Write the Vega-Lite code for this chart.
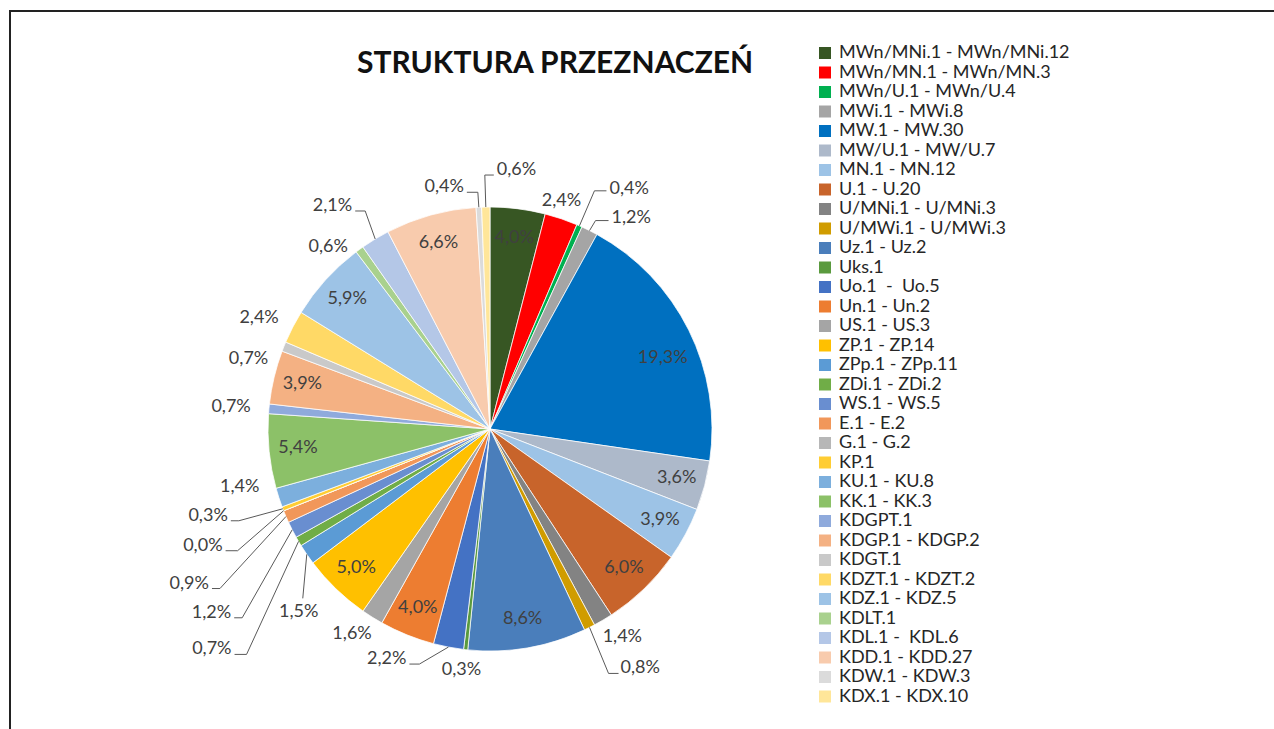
{
  "$schema": "https://vega.github.io/schema/vega-lite/v6.json",
  "width": 1264,
  "height": 718,
  "autosize": {"type": "none"},
  "padding": {"left": 10, "top": 11, "right": 0, "bottom": 0},
  "background": "#ffffff",
  "title": {"text": "STRUKTURA PRZEZNACZEŃ", "font": "Lato", "fontSize": 30, "fontWeight": "bold", "color": "#111111", "anchor": "start", "frame": "group", "orient": "top", "baseline": "middle", "offset": 0, "dx": 347, "dy": 83},
  "data": {"values": [
    {"k": "MWn/MNi.1 - MWn/MNi.12", "v": 4.0},
    {"k": "MWn/MN.1 - MWn/MN.3", "v": 2.4},
    {"k": "MWn/U.1 - MWn/U.4", "v": 0.4},
    {"k": "MWi.1 - MWi.8", "v": 1.2},
    {"k": "MW.1 - MW.30", "v": 19.3},
    {"k": "MW/U.1 - MW/U.7", "v": 3.6},
    {"k": "MN.1 - MN.12", "v": 3.9},
    {"k": "U.1 - U.20", "v": 6.0},
    {"k": "U/MNi.1 - U/MNi.3", "v": 1.4},
    {"k": "U/MWi.1 - U/MWi.3", "v": 0.8},
    {"k": "Uz.1 - Uz.2", "v": 8.6},
    {"k": "Uks.1", "v": 0.3},
    {"k": "Uo.1\u00a0 -\u00a0 Uo.5", "v": 2.2},
    {"k": "Un.1 - Un.2", "v": 4.0},
    {"k": "US.1 - US.3", "v": 1.6},
    {"k": "ZP.1 - ZP.14", "v": 5.0},
    {"k": "ZPp.1 - ZPp.11", "v": 1.5},
    {"k": "ZDi.1 - ZDi.2", "v": 0.7},
    {"k": "WS.1 - WS.5", "v": 1.2},
    {"k": "E.1 - E.2", "v": 0.9},
    {"k": "G.1 - G.2", "v": 0.0},
    {"k": "KP.1", "v": 0.3},
    {"k": "KU.1 - KU.8", "v": 1.4},
    {"k": "KK.1 - KK.3", "v": 5.4},
    {"k": "KDGPT.1", "v": 0.7},
    {"k": "KDGP.1 - KDGP.2", "v": 3.9},
    {"k": "KDGT.1", "v": 0.7},
    {"k": "KDZT.1 - KDZT.2", "v": 2.4},
    {"k": "KDZ.1 - KDZ.5", "v": 5.9},
    {"k": "KDLT.1", "v": 0.6},
    {"k": "KDL.1 -\u00a0 KDL.6", "v": 2.1},
    {"k": "KDD.1 - KDD.27", "v": 6.6},
    {"k": "KDW.1 - KDW.3", "v": 0.4},
    {"k": "KDX.1 - KDX.10", "v": 0.6}
  ]},
  "transform": [
    {"window": [{"op": "row_number", "as": "idx"}]},
    {"stack": "v", "groupby": [], "sort": [{"field": "idx", "order": "ascending"}], "as": ["s0", "s1"]},
    {"calculate": "(datum.s0 + datum.s1) * PI / 100", "as": "a"},
    {"calculate": "sin(datum.a)", "as": "ux"},
    {"calculate": "-cos(datum.a)", "as": "uy"},
    {"calculate": "222 * datum.ux", "as": "ex"},
    {"calculate": "222 * datum.uy", "as": "ey"},
    {"calculate": "replace(format(datum.v, '.1f'), '.', ',') + '%'", "as": "lab"}
  ],
  "encoding": {
    "x": {"field": "px", "type": "quantitative", "scale": {"domain": [-480, 784], "nice": false, "zero": false}, "axis": null},
    "y": {"field": "py", "type": "quantitative", "scale": {"domain": [-418, 300], "nice": false, "zero": false, "reverse": true}, "axis": null}
  },
  "layer": [
    {
      "transform": [{"calculate": "0", "as": "px"}, {"calculate": "0", "as": "py"}],
      "mark": {"type": "arc", "outerRadius": 222, "stroke": "#ffffff", "strokeWidth": 0.75},
      "encoding": {
        "theta": {"field": "s0", "type": "quantitative", "scale": {"domain": [0, 100]}},
        "theta2": {"field": "s1"},
        "color": {
          "field": "k", "type": "nominal",
          "scale": {
            "domain": ["MWn/MNi.1 - MWn/MNi.12", "MWn/MN.1 - MWn/MN.3", "MWn/U.1 - MWn/U.4", "MWi.1 - MWi.8", "MW.1 - MW.30", "MW/U.1 - MW/U.7", "MN.1 - MN.12", "U.1 - U.20", "U/MNi.1 - U/MNi.3", "U/MWi.1 - U/MWi.3", "Uz.1 - Uz.2", "Uks.1", "Uo.1\u00a0 -\u00a0 Uo.5", "Un.1 - Un.2", "US.1 - US.3", "ZP.1 - ZP.14", "ZPp.1 - ZPp.11", "ZDi.1 - ZDi.2", "WS.1 - WS.5", "E.1 - E.2", "G.1 - G.2", "KP.1", "KU.1 - KU.8", "KK.1 - KK.3", "KDGPT.1", "KDGP.1 - KDGP.2", "KDGT.1", "KDZT.1 - KDZT.2", "KDZ.1 - KDZ.5", "KDLT.1", "KDL.1 -\u00a0 KDL.6", "KDD.1 - KDD.27", "KDW.1 - KDW.3", "KDX.1 - KDX.10"],
            "range": ["#375623", "#FF0000", "#00B050", "#A5A5A5", "#0070C0", "#ADB9CA", "#9DC3E6", "#C8642B", "#838383", "#D09C00", "#4A7EBB", "#5A9A3E", "#4472C4", "#ED7D31", "#A5A5A5", "#FFC000", "#5B9BD5", "#70AD47", "#698ED0", "#F1975A", "#B7B7B7", "#FFCD33", "#7CAFDD", "#8CC168", "#8FAADC", "#F4B183", "#C9C9C9", "#FFD966", "#9DC3E6", "#A9D18E", "#B4C7E7", "#F8CBAD", "#DBDBDB", "#FFE699"]
          },
          "legend": {"orient": "none", "legendX": 806, "legendY": 33, "title": null, "symbolLimit": 0, "symbolType": "square", "symbolSize": 144, "symbolStrokeWidth": 0, "symbolOpacity": 1, "labelFont": "Lato", "labelFontSize": 18, "labelColor": "#262626", "labelOffset": 5, "labelLimit": 400, "rowPadding": 1.5, "padding": 0}
        }
      }
    },
    {
      "transform": [{"filter": "datum.v >= 3 && datum.idx !== 5"}, {"calculate": "193 * datum.ux", "as": "px"}, {"calculate": "193 * datum.uy", "as": "py"}],
      "mark": {"type": "text", "font": "Lato", "fontSize": 18, "color": "#404040", "align": "center", "baseline": "middle"},
      "encoding": {"text": {"field": "lab"}}
    },
    {
      "transform": [{"filter": "datum.idx === 5"}, {"calculate": "193 * datum.ux", "as": "px"}, {"calculate": "193 * datum.uy", "as": "py"}],
      "mark": {"type": "text", "font": "Lato", "fontSize": 18, "color": "#404040", "align": "center", "baseline": "middle", "dy": 15},
      "encoding": {"text": {"field": "lab"}}
    },
    {
      "transform": [{"filter": "indexof([9, 12, 15, 25, 28], datum.idx) >= 0"}, {"calculate": "260 * datum.ux", "as": "px"}, {"calculate": "242 * datum.uy", "as": "py"}],
      "mark": {"type": "text", "font": "Lato", "fontSize": 18, "color": "#404040", "align": "center", "baseline": "middle"},
      "encoding": {"text": {"field": "lab"}}
    },
    {
      "transform": [{"filter": "datum.idx === 2"}, {"calculate": "260 * datum.ux", "as": "px"}, {"calculate": "242 * datum.uy", "as": "py"}],
      "mark": {"type": "text", "font": "Lato", "fontSize": 18, "color": "#404040", "align": "center", "baseline": "middle", "dx": -12, "dy": 1},
      "encoding": {"text": {"field": "lab"}}
    },
    {
      "transform": [{"filter": "datum.idx === 23"}, {"calculate": "260 * datum.ux", "as": "px"}, {"calculate": "242 * datum.uy", "as": "py"}],
      "mark": {"type": "text", "font": "Lato", "fontSize": 18, "color": "#404040", "align": "center", "baseline": "middle", "dx": -3, "dy": -17},
      "encoding": {"text": {"field": "lab"}}
    },
    {
      "transform": [{"filter": "datum.idx === 27"}, {"calculate": "260 * datum.ux", "as": "px"}, {"calculate": "242 * datum.uy", "as": "py"}],
      "mark": {"type": "text", "font": "Lato", "fontSize": 18, "color": "#404040", "align": "center", "baseline": "middle", "dy": 20},
      "encoding": {"text": {"field": "lab"}}
    },
    {
      "transform": [{"filter": "datum.idx === 30"}, {"calculate": "260 * datum.ux", "as": "px"}, {"calculate": "242 * datum.uy", "as": "py"}],
      "mark": {"type": "text", "font": "Lato", "fontSize": 18, "color": "#404040", "align": "center", "baseline": "middle", "dx": -9, "dy": 14},
      "encoding": {"text": {"field": "lab"}}
    },
    {
      "transform": [{"filter": "datum.idx === 3"}, {"calculate": "datum.ex + 15", "as": "bx"}, {"calculate": "datum.ey - 35", "as": "by"}, {"calculate": "datum.bx + 12", "as": "cx"}],
      "layer": [
        {"transform": [{"calculate": "datum.ex", "as": "px"}, {"calculate": "datum.ey", "as": "py"}], "mark": {"type": "rule", "color": "#595959", "strokeWidth": 1}, "encoding": {"x2": {"field": "bx"}, "y2": {"field": "by"}}},
        {"transform": [{"calculate": "datum.bx", "as": "px"}, {"calculate": "datum.by", "as": "py"}], "mark": {"type": "rule", "color": "#595959", "strokeWidth": 1}, "encoding": {"x2": {"field": "cx"}, "y2": {"field": "by"}}},
        {"transform": [{"calculate": "datum.cx", "as": "px"}, {"calculate": "datum.by", "as": "py"}], "mark": {"type": "text", "font": "Lato", "fontSize": 18, "color": "#404040", "align": "left", "baseline": "middle", "dx": 3, "dy": -2}, "encoding": {"text": {"field": "lab"}}}
      ]
    },
    {
      "transform": [{"filter": "datum.idx === 4"}, {"calculate": "datum.ex + 6", "as": "bx"}, {"calculate": "datum.ey - 10", "as": "by"}, {"calculate": "datum.bx + 13", "as": "cx"}],
      "layer": [
        {"transform": [{"calculate": "datum.ex", "as": "px"}, {"calculate": "datum.ey", "as": "py"}], "mark": {"type": "rule", "color": "#595959", "strokeWidth": 1}, "encoding": {"x2": {"field": "bx"}, "y2": {"field": "by"}}},
        {"transform": [{"calculate": "datum.bx", "as": "px"}, {"calculate": "datum.by", "as": "py"}], "mark": {"type": "rule", "color": "#595959", "strokeWidth": 1}, "encoding": {"x2": {"field": "cx"}, "y2": {"field": "by"}}},
        {"transform": [{"calculate": "datum.cx", "as": "px"}, {"calculate": "datum.by", "as": "py"}], "mark": {"type": "text", "font": "Lato", "fontSize": 18, "color": "#404040", "align": "left", "baseline": "middle", "dx": 3, "dy": -3}, "encoding": {"text": {"field": "lab"}}}
      ]
    },
    {
      "transform": [{"filter": "datum.idx === 10"}, {"calculate": "datum.ex + 19", "as": "bx"}, {"calculate": "datum.ey + 46", "as": "by"}, {"calculate": "datum.bx + 10", "as": "cx"}],
      "layer": [
        {"transform": [{"calculate": "datum.ex", "as": "px"}, {"calculate": "datum.ey", "as": "py"}], "mark": {"type": "rule", "color": "#595959", "strokeWidth": 1}, "encoding": {"x2": {"field": "bx"}, "y2": {"field": "by"}}},
        {"transform": [{"calculate": "datum.bx", "as": "px"}, {"calculate": "datum.by", "as": "py"}], "mark": {"type": "rule", "color": "#595959", "strokeWidth": 1}, "encoding": {"x2": {"field": "cx"}, "y2": {"field": "by"}}},
        {"transform": [{"calculate": "datum.cx", "as": "px"}, {"calculate": "datum.by", "as": "py"}], "mark": {"type": "text", "font": "Lato", "fontSize": 18, "color": "#404040", "align": "left", "baseline": "middle", "dx": 2, "dy": -5}, "encoding": {"text": {"field": "lab"}}}
      ]
    },
    {
      "transform": [{"filter": "datum.idx === 13"}, {"calculate": "datum.ex - 29", "as": "bx"}, {"calculate": "datum.ey + 17", "as": "by"}, {"calculate": "datum.bx - 10", "as": "cx"}],
      "layer": [
        {"transform": [{"calculate": "datum.ex", "as": "px"}, {"calculate": "datum.ey", "as": "py"}], "mark": {"type": "rule", "color": "#595959", "strokeWidth": 1}, "encoding": {"x2": {"field": "bx"}, "y2": {"field": "by"}}},
        {"transform": [{"calculate": "datum.bx", "as": "px"}, {"calculate": "datum.by", "as": "py"}], "mark": {"type": "rule", "color": "#595959", "strokeWidth": 1}, "encoding": {"x2": {"field": "cx"}, "y2": {"field": "by"}}},
        {"transform": [{"calculate": "datum.cx", "as": "px"}, {"calculate": "datum.by", "as": "py"}], "mark": {"type": "text", "font": "Lato", "fontSize": 18, "color": "#404040", "align": "right", "baseline": "middle", "dx": -3, "dy": -5}, "encoding": {"text": {"field": "lab"}}}
      ]
    },
    {
      "transform": [{"filter": "datum.idx === 17"}, {"calculate": "datum.ex - 4", "as": "bx"}, {"calculate": "datum.ey + 44", "as": "by"}],
      "layer": [
        {"transform": [{"calculate": "datum.ex", "as": "px"}, {"calculate": "datum.ey", "as": "py"}], "mark": {"type": "rule", "color": "#595959", "strokeWidth": 1}, "encoding": {"x2": {"field": "bx"}, "y2": {"field": "by"}}},
        {"transform": [{"calculate": "datum.bx", "as": "px"}, {"calculate": "datum.by", "as": "py"}], "mark": {"type": "text", "font": "Lato", "fontSize": 18, "color": "#404040", "align": "center", "baseline": "middle", "dx": -4, "dy": 14}, "encoding": {"text": {"field": "lab"}}}
      ]
    },
    {
      "transform": [{"filter": "datum.idx === 18"}, {"calculate": "datum.ex - 52", "as": "bx"}, {"calculate": "datum.ey + 113", "as": "by"}, {"calculate": "datum.bx - 12", "as": "cx"}],
      "layer": [
        {"transform": [{"calculate": "datum.ex", "as": "px"}, {"calculate": "datum.ey", "as": "py"}], "mark": {"type": "rule", "color": "#595959", "strokeWidth": 1}, "encoding": {"x2": {"field": "bx"}, "y2": {"field": "by"}}},
        {"transform": [{"calculate": "datum.bx", "as": "px"}, {"calculate": "datum.by", "as": "py"}], "mark": {"type": "rule", "color": "#595959", "strokeWidth": 1}, "encoding": {"x2": {"field": "cx"}, "y2": {"field": "by"}}},
        {"transform": [{"calculate": "datum.cx", "as": "px"}, {"calculate": "datum.by", "as": "py"}], "mark": {"type": "text", "font": "Lato", "fontSize": 18, "color": "#404040", "align": "right", "baseline": "middle", "dx": -3, "dy": -5}, "encoding": {"text": {"field": "lab"}}}
      ]
    },
    {
      "transform": [{"filter": "datum.idx === 19"}, {"calculate": "datum.ex - 50", "as": "bx"}, {"calculate": "datum.ey + 88", "as": "by"}, {"calculate": "datum.bx - 8", "as": "cx"}],
      "layer": [
        {"transform": [{"calculate": "datum.ex", "as": "px"}, {"calculate": "datum.ey", "as": "py"}], "mark": {"type": "rule", "color": "#595959", "strokeWidth": 1}, "encoding": {"x2": {"field": "bx"}, "y2": {"field": "by"}}},
        {"transform": [{"calculate": "datum.bx", "as": "px"}, {"calculate": "datum.by", "as": "py"}], "mark": {"type": "rule", "color": "#595959", "strokeWidth": 1}, "encoding": {"x2": {"field": "cx"}, "y2": {"field": "by"}}},
        {"transform": [{"calculate": "datum.cx", "as": "px"}, {"calculate": "datum.by", "as": "py"}], "mark": {"type": "text", "font": "Lato", "fontSize": 18, "color": "#404040", "align": "right", "baseline": "middle", "dx": -3, "dy": -5}, "encoding": {"text": {"field": "lab"}}}
      ]
    },
    {
      "transform": [{"filter": "datum.idx === 20"}, {"calculate": "datum.ex - 66", "as": "bx"}, {"calculate": "datum.ey + 72", "as": "by"}, {"calculate": "datum.bx - 8", "as": "cx"}],
      "layer": [
        {"transform": [{"calculate": "datum.ex", "as": "px"}, {"calculate": "datum.ey", "as": "py"}], "mark": {"type": "rule", "color": "#595959", "strokeWidth": 1}, "encoding": {"x2": {"field": "bx"}, "y2": {"field": "by"}}},
        {"transform": [{"calculate": "datum.bx", "as": "px"}, {"calculate": "datum.by", "as": "py"}], "mark": {"type": "rule", "color": "#595959", "strokeWidth": 1}, "encoding": {"x2": {"field": "cx"}, "y2": {"field": "by"}}},
        {"transform": [{"calculate": "datum.cx", "as": "px"}, {"calculate": "datum.by", "as": "py"}], "mark": {"type": "text", "font": "Lato", "fontSize": 18, "color": "#404040", "align": "right", "baseline": "middle", "dx": -3, "dy": -5}, "encoding": {"text": {"field": "lab"}}}
      ]
    },
    {
      "transform": [{"filter": "datum.idx === 21"}, {"calculate": "datum.ex - 46", "as": "bx"}, {"calculate": "datum.ey + 40", "as": "by"}, {"calculate": "datum.bx - 12", "as": "cx"}],
      "layer": [
        {"transform": [{"calculate": "datum.ex", "as": "px"}, {"calculate": "datum.ey", "as": "py"}], "mark": {"type": "rule", "color": "#595959", "strokeWidth": 1}, "encoding": {"x2": {"field": "bx"}, "y2": {"field": "by"}}},
        {"transform": [{"calculate": "datum.bx", "as": "px"}, {"calculate": "datum.by", "as": "py"}], "mark": {"type": "rule", "color": "#595959", "strokeWidth": 1}, "encoding": {"x2": {"field": "cx"}, "y2": {"field": "by"}}},
        {"transform": [{"calculate": "datum.cx", "as": "px"}, {"calculate": "datum.by", "as": "py"}], "mark": {"type": "text", "font": "Lato", "fontSize": 18, "color": "#404040", "align": "right", "baseline": "middle", "dx": -3, "dy": -5}, "encoding": {"text": {"field": "lab"}}}
      ]
    },
    {
      "transform": [{"filter": "datum.idx === 22"}, {"calculate": "datum.ex - 44", "as": "bx"}, {"calculate": "datum.ey + 12", "as": "by"}, {"calculate": "datum.bx - 8", "as": "cx"}],
      "layer": [
        {"transform": [{"calculate": "datum.ex", "as": "px"}, {"calculate": "datum.ey", "as": "py"}], "mark": {"type": "rule", "color": "#595959", "strokeWidth": 1}, "encoding": {"x2": {"field": "bx"}, "y2": {"field": "by"}}},
        {"transform": [{"calculate": "datum.bx", "as": "px"}, {"calculate": "datum.by", "as": "py"}], "mark": {"type": "rule", "color": "#595959", "strokeWidth": 1}, "encoding": {"x2": {"field": "cx"}, "y2": {"field": "by"}}},
        {"transform": [{"calculate": "datum.cx", "as": "px"}, {"calculate": "datum.by", "as": "py"}], "mark": {"type": "text", "font": "Lato", "fontSize": 18, "color": "#404040", "align": "right", "baseline": "middle", "dx": -3, "dy": -5}, "encoding": {"text": {"field": "lab"}}}
      ]
    },
    {
      "transform": [{"filter": "datum.idx === 31"}, {"calculate": "datum.ex - 10", "as": "bx"}, {"calculate": "datum.ey - 28", "as": "by"}, {"calculate": "datum.bx - 10", "as": "cx"}],
      "layer": [
        {"transform": [{"calculate": "datum.ex", "as": "px"}, {"calculate": "datum.ey", "as": "py"}], "mark": {"type": "rule", "color": "#595959", "strokeWidth": 1}, "encoding": {"x2": {"field": "bx"}, "y2": {"field": "by"}}},
        {"transform": [{"calculate": "datum.bx", "as": "px"}, {"calculate": "datum.by", "as": "py"}], "mark": {"type": "rule", "color": "#595959", "strokeWidth": 1}, "encoding": {"x2": {"field": "cx"}, "y2": {"field": "by"}}},
        {"transform": [{"calculate": "datum.cx", "as": "px"}, {"calculate": "datum.by", "as": "py"}], "mark": {"type": "text", "font": "Lato", "fontSize": 18, "color": "#404040", "align": "right", "baseline": "middle", "dx": -3, "dy": -5}, "encoding": {"text": {"field": "lab"}}}
      ]
    },
    {
      "transform": [{"filter": "datum.idx === 33"}, {"calculate": "datum.ex - 1", "as": "bx"}, {"calculate": "datum.ey - 15", "as": "by"}, {"calculate": "datum.bx - 11", "as": "cx"}],
      "layer": [
        {"transform": [{"calculate": "datum.ex", "as": "px"}, {"calculate": "datum.ey", "as": "py"}], "mark": {"type": "rule", "color": "#595959", "strokeWidth": 1}, "encoding": {"x2": {"field": "bx"}, "y2": {"field": "by"}}},
        {"transform": [{"calculate": "datum.bx", "as": "px"}, {"calculate": "datum.by", "as": "py"}], "mark": {"type": "rule", "color": "#595959", "strokeWidth": 1}, "encoding": {"x2": {"field": "cx"}, "y2": {"field": "by"}}},
        {"transform": [{"calculate": "datum.cx", "as": "px"}, {"calculate": "datum.by", "as": "py"}], "mark": {"type": "text", "font": "Lato", "fontSize": 18, "color": "#404040", "align": "right", "baseline": "middle", "dx": -3, "dy": -5}, "encoding": {"text": {"field": "lab"}}}
      ]
    },
    {
      "transform": [{"filter": "datum.idx === 34"}, {"calculate": "datum.ex - 1", "as": "bx"}, {"calculate": "datum.ey - 32", "as": "by"}, {"calculate": "datum.bx + 9", "as": "cx"}],
      "layer": [
        {"transform": [{"calculate": "datum.ex", "as": "px"}, {"calculate": "datum.ey", "as": "py"}], "mark": {"type": "rule", "color": "#595959", "strokeWidth": 1}, "encoding": {"x2": {"field": "bx"}, "y2": {"field": "by"}}},
        {"transform": [{"calculate": "datum.bx", "as": "px"}, {"calculate": "datum.by", "as": "py"}], "mark": {"type": "rule", "color": "#595959", "strokeWidth": 1}, "encoding": {"x2": {"field": "cx"}, "y2": {"field": "by"}}},
        {"transform": [{"calculate": "datum.cx", "as": "px"}, {"calculate": "datum.by", "as": "py"}], "mark": {"type": "text", "font": "Lato", "fontSize": 18, "color": "#404040", "align": "left", "baseline": "middle", "dx": 3, "dy": -5}, "encoding": {"text": {"field": "lab"}}}
      ]
    }
  ],
  "config": {
    "font": "Lato",
    "view": {"stroke": "#222222", "strokeWidth": 2, "strokeDash": [1264, 1982, 718]}
  }
}
